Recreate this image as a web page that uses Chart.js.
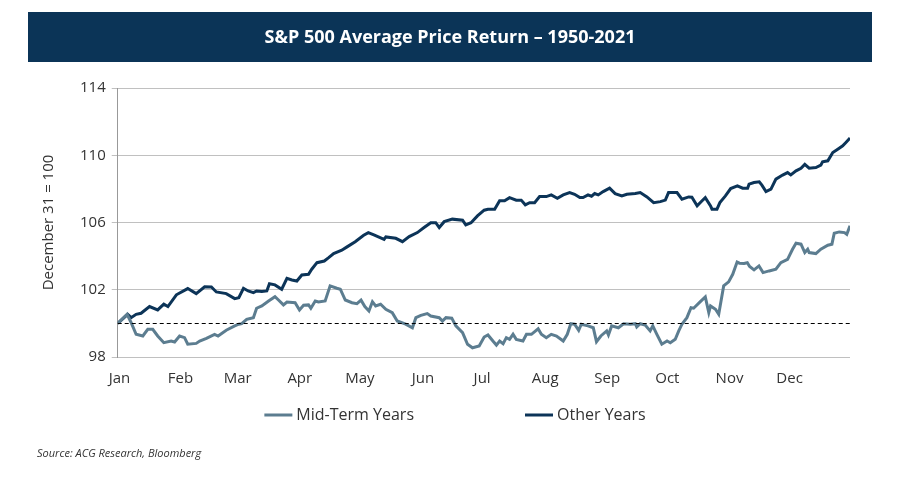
<!DOCTYPE html>
<html>
<head>
<meta charset="utf-8">
<script src="https://cdn.jsdelivr.net/npm/chart.js@4.4.1/dist/chart.umd.min.js"></script>
<style>
  html, body { margin: 0; padding: 0; background: #fff; }
  #wrap { width: 900px; height: 480px; position: relative; }
</style>
</head>
<body>
<div id="wrap"><canvas id="spxChart" width="900" height="480"></canvas></div>
<script>
const months = ['Jan', 'Feb', 'Mar', 'Apr', 'May', 'Jun', 'Jul', 'Aug', 'Sep', 'Oct', 'Nov', 'Dec'];
// trading-day index where each month label sits
const monthStartDays = [0.6, 21.5, 41.1, 62.4, 83, 104.6, 124.9, 146.5, 167.8, 188.4, 209.7, 230.3];
const yTicks = [98, 102, 106, 110, 114];
const baseLine = 100;

// Other Years (trading day, index level)
const otherDays = [0, 3.4, 4.6, 6.3, 8.0, 10.9, 13.7, 15.8, 17.2, 20.1, 24.0, 26.9, 29.8, 32.1, 33.8, 37.2, 40.1, 41.5,
  43.1, 44.7, 46.5, 47.6, 49.4, 51.1, 52.0, 53.9, 56.2, 58.0, 59.7, 61.4, 63.1, 65.4, 66.5, 68.3, 70.8, 72.3, 74.0,
  76.8, 78.6, 81.4, 84.3, 85.9, 87.8, 91.3, 91.9, 95.3, 97.6, 99.9, 102.7, 105.0, 107.3, 109.0, 110.2, 111.9, 114.7,
  118.2, 119.3, 121.1, 123.3, 125.6, 126.9, 129.2, 130.9, 132.6, 134.3, 136.6, 138.3, 139.7, 141.2, 142.9, 144.6,
  146.9, 148.6, 150.7, 152.7, 154.9, 156.6, 158.4, 159.5, 161.2, 162.4, 163.5, 164.7, 166.4, 168.6, 170.5, 172.8,
  174.5, 177.4, 179.1, 181.4, 183.7, 186.0, 187.7, 188.8, 191.7, 193.4, 195.7, 196.8, 198.6, 200.3, 201.4, 203.2,
  203.7, 205.4, 206.4, 208.3, 210.1, 212.4, 214.2, 215.9, 216.4, 218.1, 219.9, 220.8, 222.2, 223.9, 225.6, 227.9,
  229.6, 230.7, 232.5, 234.2, 235.5, 237.0, 239.3, 241.0, 241.6, 243.4, 245.1, 246.8, 248.5, 249.6, 251.0];
const otherValues = [100.0, 100.54, 100.34, 100.54, 100.6, 101.0, 100.8, 101.14, 101.0, 101.7, 102.07, 101.77, 102.18,
  102.17, 101.87, 101.77, 101.47, 101.53, 102.09, 101.93, 101.83, 101.93, 101.89, 101.93, 102.36, 102.29, 102.03,
  102.68, 102.58, 102.52, 102.88, 102.92, 103.22, 103.61, 103.71, 103.91, 104.15, 104.35, 104.55, 104.86, 105.24,
  105.4, 105.26, 105.0, 105.14, 105.06, 104.86, 105.16, 105.4, 105.7, 105.99, 105.99, 105.7, 106.05, 106.2, 106.14,
  105.86, 105.99, 106.39, 106.73, 106.79, 106.79, 107.29, 107.29, 107.48, 107.33, 107.33, 107.05, 107.18, 107.18,
  107.54, 107.54, 107.64, 107.44, 107.64, 107.78, 107.68, 107.48, 107.48, 107.64, 107.56, 107.72, 107.64, 107.84,
  108.04, 107.72, 107.58, 107.68, 107.72, 107.78, 107.52, 107.18, 107.24, 107.33, 107.78, 107.78, 107.39, 107.52,
  107.5, 106.99, 107.29, 107.48, 106.99, 106.79, 106.79, 107.18, 107.58, 108.02, 108.18, 108.04, 108.04, 108.28,
  108.38, 108.42, 108.22, 107.84, 107.98, 108.58, 108.82, 108.97, 108.83, 109.07, 109.23, 109.46, 109.23, 109.27,
  109.41, 109.61, 109.67, 110.16, 110.36, 110.56, 110.76, 111.02];

// Mid-Term Years (trading day, index level)
const midDays = [0, 3.2, 4.6, 6.3, 8.6, 10.3, 12.0, 13.7, 15.8, 18.3, 19.5, 21.2, 22.9, 24.0, 26.9, 28.1, 30.4, 33.2,
  34.4, 37.2, 40.1, 41.5, 42.5, 44.2, 46.5, 47.6, 49.4, 51.7, 53.9, 55.1, 56.8, 58.0, 60.8, 62.3, 63.7, 65.4, 66.2,
  67.7, 68.8, 71.1, 72.8, 75.1, 76.3, 78.0, 80.3, 82.0, 83.4, 84.7, 86.1, 87.3, 88.4, 90.1, 91.9, 94.1, 95.8, 98.7,
  101.0, 102.2, 103.9, 106.1, 107.3, 110.2, 111.3, 112.5, 114.5, 115.9, 118.2, 119.9, 121.6, 123.9, 125.6, 126.9,
  128.6, 129.8, 130.9, 132.1, 133.2, 134.3, 135.5, 136.6, 138.9, 140.1, 141.8, 144.1, 145.2, 146.9, 148.6, 150.4,
  152.7, 154.1, 155.3, 156.6, 158.0, 158.9, 161.2, 163.0, 164.1, 165.6, 167.6, 168.2, 169.3, 171.6, 173.4, 175.7,
  177.4, 177.9, 179.1, 180.8, 182.5, 183.4, 184.8, 186.5, 188.3, 189.4, 191.1, 192.3, 193.4, 195.1, 196.5, 197.4,
  199.7, 201.4, 202.6, 203.2, 204.9, 206.0, 207.7, 209.4, 210.8, 212.3, 213.1, 214.7, 215.8, 216.6, 218.1, 219.8,
  221.2, 223.3, 225.6, 227.3, 229.6, 231.3, 232.5, 234.2, 235.5, 236.5, 237.0, 239.3, 241.0, 243.4, 244.8, 245.6,
  247.3, 249.1, 249.9, 251.0];
const midValues = [100.0, 100.54, 100.04, 99.35, 99.25, 99.65, 99.65, 99.25, 98.85, 98.95, 98.89, 99.25, 99.15, 98.76,
  98.81, 98.95, 99.11, 99.35, 99.25, 99.59, 99.85, 99.95, 99.98, 100.24, 100.34, 100.9, 101.04, 101.33, 101.59,
  101.39, 101.1, 101.27, 101.23, 100.8, 101.08, 101.1, 100.9, 101.33, 101.27, 101.33, 102.23, 102.09, 102.03, 101.39,
  101.23, 101.17, 101.38, 101.0, 100.74, 101.29, 101.04, 101.14, 100.84, 100.64, 100.14, 99.95, 99.74, 100.34, 100.48,
  100.58, 100.44, 100.34, 100.14, 100.34, 100.31, 99.85, 99.45, 98.76, 98.55, 98.65, 99.19, 99.31, 98.95, 98.71,
  98.95, 98.79, 99.15, 99.05, 99.35, 99.05, 98.95, 99.35, 99.35, 99.68, 99.35, 99.15, 99.35, 99.25, 98.95, 99.35,
  99.98, 99.95, 99.59, 99.95, 99.85, 99.74, 98.91, 99.25, 99.55, 99.31, 99.85, 99.74, 99.98, 99.95, 99.98, 99.79,
  99.98, 99.9, 99.55, 99.85, 99.35, 98.76, 98.95, 98.85, 99.05, 99.55, 99.95, 100.34, 100.93, 100.9, 101.29, 101.57,
  100.64, 101.04, 100.84, 100.54, 102.23, 102.47, 102.92, 103.65, 103.58, 103.56, 103.61, 103.38, 103.18, 103.42,
  103.02, 103.12, 103.22, 103.61, 103.81, 104.41, 104.77, 104.71, 104.21, 104.41, 104.21, 104.15, 104.41, 104.65,
  104.71, 105.36, 105.44, 105.4, 105.3, 105.8];

const fontFamily = "'Open Sans', 'DejaVu Sans', sans-serif";

const toPoints = (days, values) => days.map((d, i) => ({ x: d, y: values[i] }));

// dark header bar with title, legend row and source note
const decorPlugin = {
  id: 'decor',
  beforeDraw(chart) {
    const ctx = chart.ctx;
    ctx.save();
    ctx.fillStyle = '#0b3457';
    ctx.fillRect(28, 12, 844, 50);
    ctx.fillStyle = '#ffffff';
    ctx.font = "bold 18px " + fontFamily;
    ctx.textAlign = 'center';
    ctx.textBaseline = 'middle';
    ctx.fillText('S&P 500 Average Price Return \u2013 1950-2021', 450, 38);

    ctx.fillStyle = '#333333';
    ctx.font = "italic 11px " + fontFamily;
    ctx.textAlign = 'left';
    ctx.fillText('Source: ACG Research, Bloomberg', 37, 454);
    ctx.restore();
  },
  afterDatasetsDraw(chart) {
    const { ctx, chartArea, scales } = chart;
    // dashed reference line at 100
    const y = scales.y.getPixelForValue(baseLine);
    ctx.save();
    ctx.strokeStyle = '#000000';
    ctx.lineWidth = 1;
    ctx.setLineDash([4, 3]);
    ctx.beginPath();
    ctx.moveTo(chartArea.left, Math.round(y) + 0.5);
    ctx.lineTo(chartArea.right, Math.round(y) + 0.5);
    ctx.stroke();
    ctx.setLineDash([]);

    // legend: line swatch + label, spread wide like the original
    const sw = 28, gapText = 4, gapItem = 111, legendY = 415;
    ctx.font = "16px " + fontFamily;
    const items = chart.data.datasets.map((ds) => ({
      label: ds.label, color: ds.borderColor, w: ctx.measureText(ds.label).width,
    }));
    const total = items.reduce((s, it) => s + sw + gapText + it.w, 0) + gapItem * (items.length - 1);
    let x = 455 - total / 2;
    ctx.textAlign = 'left';
    ctx.textBaseline = 'middle';
    items.forEach((it) => {
      ctx.strokeStyle = it.color;
      ctx.lineWidth = 3;
      ctx.beginPath();
      ctx.moveTo(x, legendY);
      ctx.lineTo(x + sw, legendY);
      ctx.stroke();
      ctx.fillStyle = '#333333';
      ctx.fillText(it.label, x + sw + gapText, legendY);
      x += sw + gapText + it.w + gapItem;
    });
    ctx.restore();
  }
};

const ctx = document.getElementById('spxChart').getContext('2d');
new Chart(ctx, {
  type: 'line',
  data: {
    datasets: [
      {
        label: 'Mid-Term Years',
        data: toPoints(midDays, midValues),
        borderColor: '#5c7d90',
        backgroundColor: '#5c7d90',
        borderWidth: 3,
        pointRadius: 0,
        tension: 0,
      },
      {
        label: 'Other Years',
        data: toPoints(otherDays, otherValues),
        borderColor: '#0c3458',
        backgroundColor: '#0c3458',
        borderWidth: 3,
        pointRadius: 0,
        tension: 0,
      },
    ],
  },
  options: {
    responsive: false,
    animation: false,
    layout: { padding: { top: 88, left: 24, right: 50, bottom: 87 } },
    plugins: {
      tooltip: { enabled: false },
      legend: { display: false },
    },
    scales: {
      x: {
        type: 'linear',
        min: 0,
        max: 251,
        grid: { display: false },
        border: { display: false },
        afterBuildTicks: (axis) => {
          axis.ticks = monthStartDays.map((v) => ({ value: v }));
        },
        ticks: {
          autoSkip: false,
          maxRotation: 0,
          padding: 5,
          color: '#333333',
          font: { family: fontFamily, size: 15 },
          callback: (value, index) => months[index],
        },
      },
      y: {
        min: 98,
        max: 114,
        afterBuildTicks: (axis) => {
          axis.ticks = yTicks.map((v) => ({ value: v }));
        },
        grid: { color: '#c0c0c0', tickLength: 6 },
        border: { color: '#999999' },
        ticks: {
          color: '#333333',
          padding: 6,
          font: { family: fontFamily, size: 15 },
        },
        title: {
          display: true,
          text: 'December 31 = 100',
          color: '#333333',
          padding: 16,
          font: { family: fontFamily, size: 15 },
        },
      },
    },
  },
  plugins: [decorPlugin],
});
</script>
</body>
</html>
